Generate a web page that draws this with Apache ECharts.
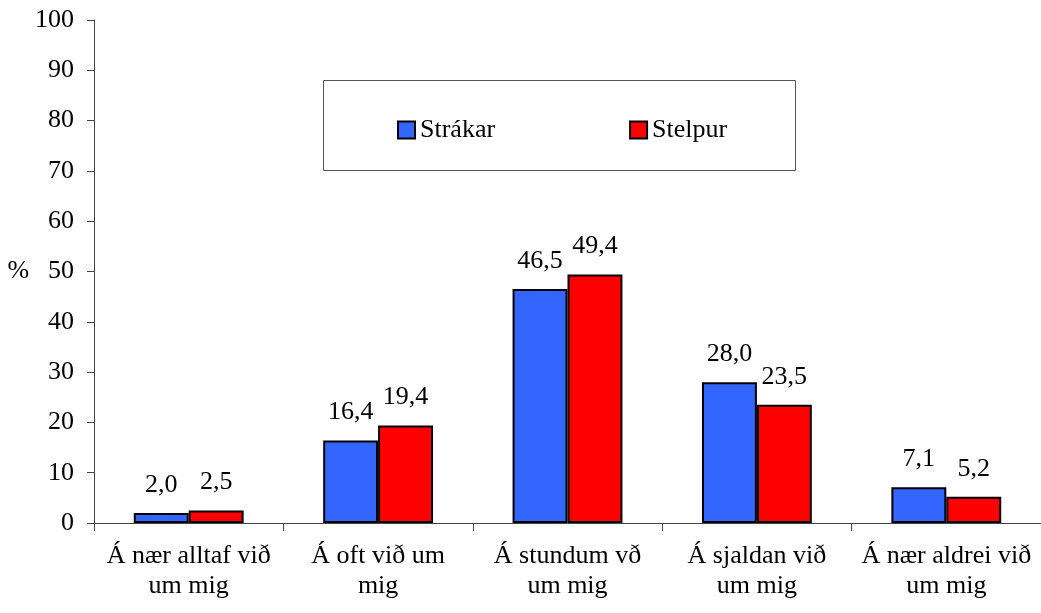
<!DOCTYPE html>
<html><head><meta charset="utf-8">
<script src="https://cdn.jsdelivr.net/npm/echarts@6/dist/echarts.min.js"></script>
<style>html,body{margin:0;padding:0;background:#fff}#c{width:1041px;height:613px}</style>
</head><body><div id="c"></div>
<script>
const categories = ['Á nær alltaf við\num mig', 'Á oft við um\nmig', 'Á stundum vð\num mig', 'Á sjaldan við\num mig', 'Á nær aldrei við\num mig'];
const strakar = [2.0, 16.4, 46.5, 28.0, 7.1];
const stelpur = [2.5, 19.4, 49.4, 23.5, 5.2];
const seriesNames = ['Strákar', 'Stelpur'];
const font = '"Liberation Serif", "Times New Roman", serif';
const FS = 26;
const chart = echarts.init(document.getElementById('c'));
const lbl = {show: true, position: 'top', distance: 15, color: '#000', fontFamily: font, fontSize: FS,
  formatter: p => p.value.toFixed(1).replace('.', ',')};
chart.setOption({
  animation: false,
  textStyle: {fontFamily: font},
  grid: {left: 94, right: -4, top: 20, bottom: 90},
  graphic: [{type: 'rect', shape: {x: 323.5, y: 80.5, width: 472, height: 90}, style: {fill: '#fff', stroke: '#555', lineWidth: 1}, z: 0}],
  legend: {left: 392, top: 112, itemWidth: 17, itemHeight: 17, itemGap: 134, icon: 'rect', z: 5,
    textStyle: {fontFamily: font, fontSize: FS, color: '#000'}, data: seriesNames},
  xAxis: {type: 'category', data: categories,
    axisLine: {lineStyle: {color: '#444', width: 1}},
    axisTick: {show: true, length: 8, lineStyle: {color: '#444'}},
    axisLabel: {color: '#000', fontFamily: font, fontSize: FS, lineHeight: 30, margin: 18, interval: 0}},
  yAxis: {type: 'value', min: 0, max: 100, interval: 10, name: '%', nameLocation: 'middle', nameRotate: 0, nameGap: 62,
    nameTextStyle: {color: '#000', fontFamily: font, fontSize: FS},
    axisLine: {show: true, lineStyle: {color: '#444'}},
    axisTick: {show: true, length: 7, lineStyle: {color: '#444'}},
    splitLine: {show: false},
    axisLabel: {color: '#000', fontFamily: font, fontSize: FS, margin: 20}},
  series: [
    {name: seriesNames[0], type: 'bar', data: strakar, barWidth: '29%', barGap: '0%',
      itemStyle: {color: '#3366ff', borderColor: '#000', borderWidth: 2}, label: lbl},
    {name: seriesNames[1], type: 'bar', data: stelpur, barWidth: '29%', barGap: '0%',
      itemStyle: {color: '#ff0000', borderColor: '#000', borderWidth: 2}, label: lbl}
  ]
});
</script></body></html>
